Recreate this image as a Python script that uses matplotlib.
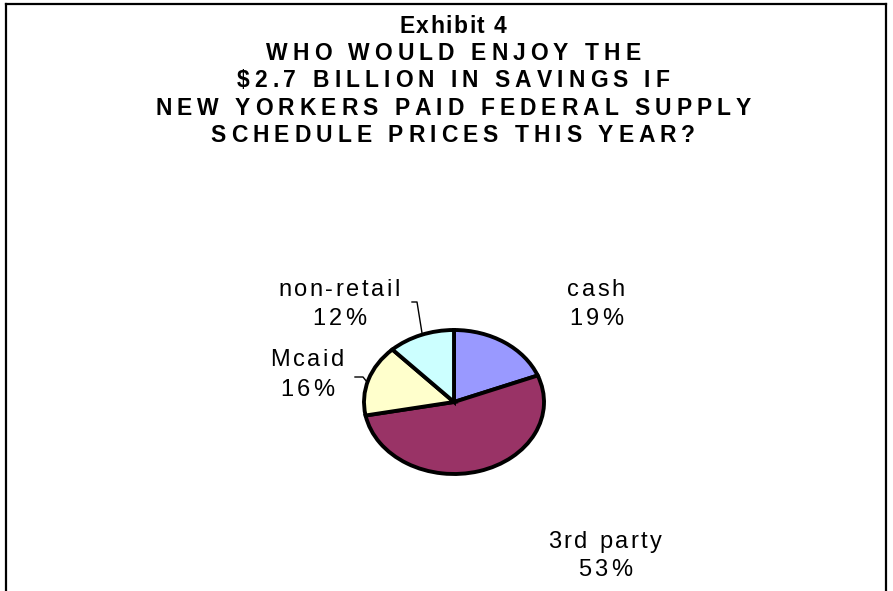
import matplotlib
matplotlib.use("Agg")
import matplotlib.pyplot as plt
from matplotlib.lines import Line2D
from matplotlib.font_manager import FontProperties, findfont, get_font

# data
categories = ["cash", "3rd party", "Mcaid", "non-retail"]
shares = [19, 53, 16, 12]
colors = ["#9999FF", "#993366", "#FFFFCC", "#CCFFFF"]
title_lines = [
    "Exhibit 4",
    "WHO WOULD ENJOY THE",
    "$2.7 BILLION IN SAVINGS IF",
    "NEW YORKERS PAID FEDERAL SUPPLY",
    "SCHEDULE PRICES THIS YEAR?",
]

W, H, DPI = 893, 591, 100
fig = plt.figure(figsize=(W / DPI, H / DPI), dpi=DPI)


def fx(x):
    return x / W


def fy(y):
    return 1 - y / H


def spaced_text(xc, y_base, s, size, track, weight="normal"):
    # draw text with extra letter spacing (px), centred on xc
    prop = FontProperties(family="Liberation Sans", size=size, weight=weight)
    font = get_font(findfont(prop))
    font.set_size(size, DPI)
    advs = [font.load_char(ord(c)).linearHoriAdvance / 65536 for c in s]
    total = sum(advs) + track * (len(s) - 1)
    x = xc - total / 2
    for c, a in zip(s, advs):
        if c != " ":
            fig.text(fx(x + a / 2), fy(y_base), c, ha="center", va="baseline",
                     fontproperties=prop, color="black")
        x += a + track


# frame
frame_kw = dict(color="black", lw=1.6, transform=fig.transFigure)
fig.add_artist(Line2D([fx(6), fx(6)], [fy(4), 0], **frame_kw))
fig.add_artist(Line2D([fx(6), fx(886)], [fy(4), fy(4)], **frame_kw))
fig.add_artist(Line2D([fx(886), fx(886)], [fy(4), 0], **frame_kw))

# title
title_base = [33, 60, 87, 115, 142]
for line, yb in zip(title_lines, title_base):
    spaced_text(453, yb, line, 16.5, 1.5 if line.startswith("Exhibit") else 5.0, weight="bold")

# pie (elliptical, like the flat Excel pie)
cx, cy, rx, ry = 454, 402, 90, 72
ax = fig.add_axes([fx(cx - rx * 1.05), fy(cy + ry * 1.05), 2.1 * rx / W, 2.1 * ry / H])
ax.pie(shares, colors=colors, startangle=90, counterclock=False,
       wedgeprops=dict(edgecolor="black", linewidth=2.8))
ax.set_aspect("auto")
ax.set_xlim(-1.05, 1.05)
ax.set_ylim(-1.05, 1.05)
ax.axis("off")

# labels
label_pos = [(596, 296, 325), (605, 548, 576), (307, 366, 396), (339, 296, 325)]
for name, v, (lx, y1, y2) in zip(categories, shares, label_pos):
    spaced_text(lx, y1, name, 17, 2.6)
    spaced_text(lx, y2, f"{v}%", 17, 3.5)

# leader lines
lead_kw = dict(color="black", lw=1.0, transform=fig.transFigure)
fig.add_artist(Line2D([fx(412), fx(417), fx(422)], [fy(302), fy(302), fy(333)], **lead_kw))
fig.add_artist(Line2D([fx(355), fx(363), fx(367)], [fy(377), fy(377), fy(382)], **lead_kw))

fig.savefig("out.png", dpi=DPI)
